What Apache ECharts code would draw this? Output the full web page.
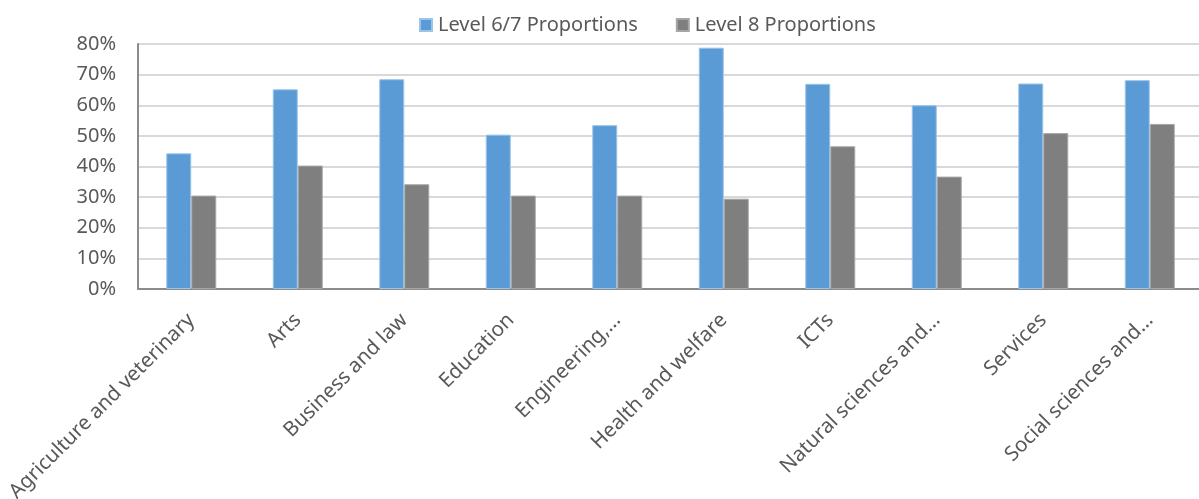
<!DOCTYPE html>
<html>
<head>
<meta charset="utf-8">
<script src="https://cdn.jsdelivr.net/npm/echarts@6/dist/echarts.min.js"></script>
<style>
  html, body { margin: 0; padding: 0; background: #ffffff; }
  #chart { width: 1199px; height: 499px; }
</style>
</head>
<body>
<div id="chart"></div>
<script>
// Fields of study
const categories = [
  'Agriculture and veterinary',
  'Arts',
  'Business and law',
  'Education',
  'Engineering,…',
  'Health and welfare',
  'ICTs',
  'Natural sciences and…',
  'Services',
  'Social sciences and…'
];

// Proportions in percent
const level67 = [44.3, 65.2, 68.5, 50.4, 53.5, 78.8, 67.0, 60.0, 67.1, 68.2];
const level8  = [30.5, 40.3, 34.2, 30.5, 30.5, 29.5, 46.6, 36.7, 50.9, 53.9];

const seriesNames = ['Level 6/7 Proportions', 'Level 8 Proportions'];
const yTicks = { min: 0, max: 80, interval: 10 };

const font = 'Noto Sans';
const textColor = '#595959';

const chart = echarts.init(document.getElementById('chart'));
chart.setOption({
  animation: false,
  backgroundColor: '#ffffff',
  textStyle: { fontFamily: font },
  legend: {
    left: 414,
    top: 10,
    itemWidth: 12,
    itemHeight: 12,
    itemGap: 38,
    icon: 'rect',
    textStyle: { fontFamily: font, fontSize: 20, color: textColor, padding: [0, 0, 0, 1] },
    data: seriesNames
  },
  grid: {
    left: 138,
    top: 44,
    width: 1065,
    height: 245,
    containLabel: false,
    outerBoundsMode: 'none'
  },
  xAxis: {
    type: 'category',
    data: categories,
    axisLine: { show: true, lineStyle: { color: '#8c8c8c', width: 2 } },
    axisTick: { show: false },
    axisLabel: {
      interval: 0,
      rotate: 45,
      margin: 28,
      fontFamily: font,
      fontSize: 20.5,
      color: textColor
    }
  },
  yAxis: {
    type: 'value',
    min: yTicks.min,
    max: yTicks.max,
    interval: yTicks.interval,
    axisLine: { show: true, lineStyle: { color: '#8c8c8c', width: 2 } },
    axisTick: { show: false },
    splitLine: { lineStyle: { color: '#d9d9d9', width: 2 } },
    axisLabel: {
      formatter: '{value}%',
      margin: 22,
      fontFamily: font,
      fontSize: 20,
      color: textColor
    }
  },
  series: [
    {
      name: seriesNames[0],
      type: 'bar',
      data: level67,
      barWidth: 25,
      barGap: '0%',
      itemStyle: { color: '#5b9bd5', borderColor: '#9cc3e8', borderWidth: 1 }
    },
    {
      name: seriesNames[1],
      type: 'bar',
      data: level8,
      barWidth: 25,
      itemStyle: { color: '#7f7f7f', borderColor: '#a6a6a6', borderWidth: 1 }
    }
  ]
});
</script>
</body>
</html>
